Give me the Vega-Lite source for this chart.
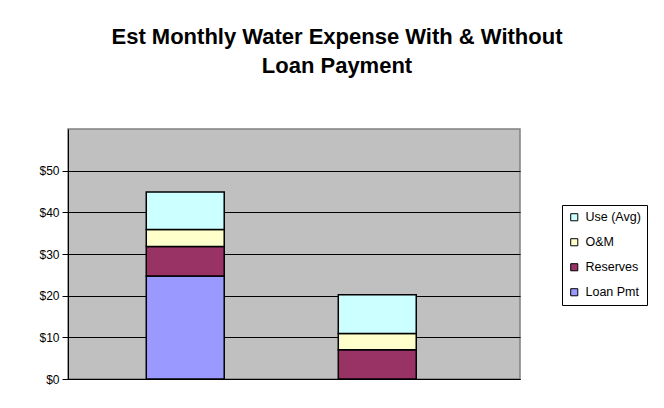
{
  "$schema": "https://vega.github.io/schema/vega-lite/v6.json",
  "autosize": {"type": "none"},
  "width": 452,
  "height": 250,
  "padding": {"left": 68, "top": 129, "right": 144, "bottom": 29},
  "background": "white",
  "title": {
    "text": ["Est Monthly Water Expense With & Without", "Loan Payment"],
    "font": "Liberation Sans",
    "fontSize": 22,
    "fontWeight": "bold",
    "color": "black",
    "anchor": "middle",
    "frame": "group",
    "dx": 43,
    "offset": 51,
    "lineHeight": 29
  },
  "data": {
    "values": [
      {"scenario": "With Loan", "component": "Loan Pmt", "amount": 24.7, "rank": 1},
      {"scenario": "With Loan", "component": "Reserves", "amount": 7.1, "rank": 2},
      {"scenario": "With Loan", "component": "O&M", "amount": 4.1, "rank": 3},
      {"scenario": "With Loan", "component": "Use (Avg)", "amount": 9.0, "rank": 4},
      {"scenario": "Without Loan", "component": "Reserves", "amount": 7.0, "rank": 2},
      {"scenario": "Without Loan", "component": "O&M", "amount": 3.9, "rank": 3},
      {"scenario": "Without Loan", "component": "Use (Avg)", "amount": 9.3, "rank": 4}
    ]
  },
  "mark": {"type": "bar", "stroke": "black", "strokeWidth": 1.5},
  "encoding": {
    "x": {
      "field": "scenario",
      "type": "nominal",
      "sort": ["With Loan", "Without Loan"],
      "scale": {"paddingInner": 0.594, "paddingOuter": 0.474, "align": 0.43},
      "axis": {"labels": false, "ticks": false, "title": null, "domainColor": "black", "domainWidth": 1}
    },
    "y": {
      "field": "amount",
      "type": "quantitative",
      "aggregate": "sum",
      "stack": "zero",
      "scale": {"domain": [0, 60], "nice": false},
      "axis": {
        "values": [0, 10, 20, 30, 40, 50],
        "format": "$.0f",
        "title": null,
        "grid": true,
        "gridColor": "black",
        "gridWidth": 1,
        "domainColor": "black",
        "tickColor": "black",
        "tickSize": 6,
        "labelFont": "Liberation Sans",
        "labelFontSize": 12,
        "labelColor": "black",
        "labelPadding": 3
      }
    },
    "color": {
      "field": "component",
      "type": "nominal",
      "scale": {
        "domain": ["Use (Avg)", "O&M", "Reserves", "Loan Pmt"],
        "range": ["#CCFFFF", "#FFFFCC", "#993366", "#9999FF"]
      },
      "legend": {
        "orient": "none",
        "legendX": 494,
        "legendY": 76,
        "title": null,
        "strokeColor": "black",
        "fillColor": "white",
        "padding": 6,
        "symbolType": "square",
        "symbolSize": 50,
        "symbolStrokeColor": "black",
        "symbolStrokeWidth": 1,
        "labelFont": "Liberation Sans",
        "labelFontSize": 12.5,
        "labelColor": "black",
        "labelOffset": 5,
        "rowPadding": 12,
        "labelLimit": 200
      }
    },
    "order": {"field": "rank", "type": "quantitative"}
  },
  "config": {
    "view": {"fill": "#C0C0C0", "stroke": "#808080", "strokeWidth": 1.5}
  }
}
